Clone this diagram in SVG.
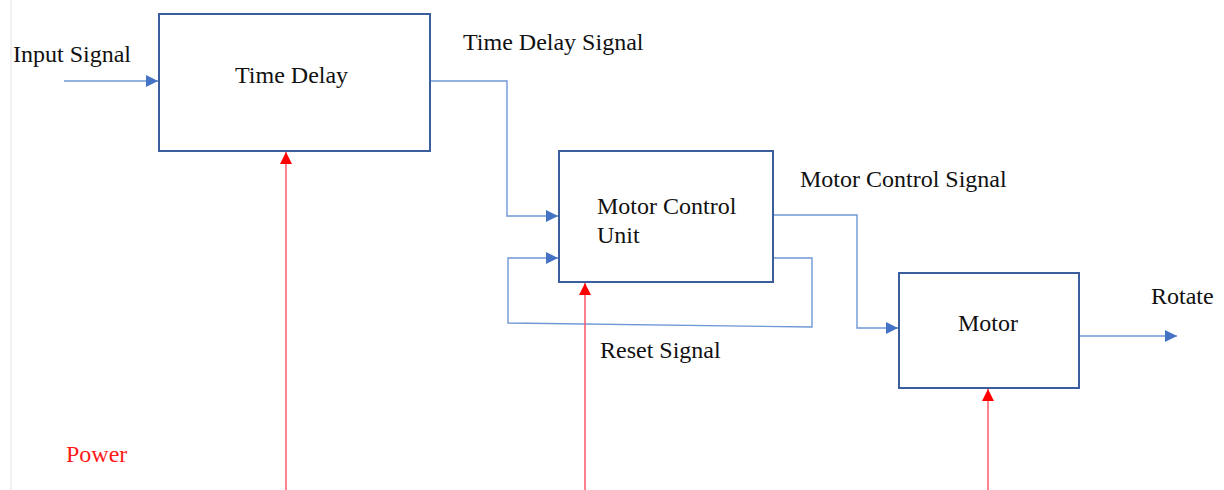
<svg xmlns="http://www.w3.org/2000/svg" width="1224" height="490" viewBox="0 0 1224 490">
<style>
.box{fill:#fff;stroke:#3b5f9e;stroke-width:2}
.lbl{font-family:"Liberation Serif","Times New Roman",serif;font-size:24px;fill:#111}
.blue{fill:none;stroke:#6f97d6;stroke-width:1.4}
.red{fill:none;stroke:#ff4d5e;stroke-width:1.4}
</style>
<defs>
<marker id="ab" markerUnits="userSpaceOnUse" markerWidth="13" markerHeight="12" refX="12" refY="6" orient="auto">
<path d="M0,0 L12,6 L0,12 Z" fill="#4472c4"/>
</marker>
<marker id="ar" markerUnits="userSpaceOnUse" markerWidth="13" markerHeight="12" refX="12" refY="6" orient="auto">
<path d="M0,0 L12,6 L0,12 Z" fill="#ff0000"/>
</marker>
</defs>
<rect width="1224" height="490" fill="#fff"/>
<line x1="11" y1="0" x2="11" y2="490" stroke="#e2e2e2" stroke-width="1"/>
<g id="connectors">
<path class="blue" d="M64,81 H158" marker-end="url(#ab)"/>
<path class="blue" d="M430,81 H507 V216 H558" marker-end="url(#ab)"/>
<path class="blue" d="M773,258 H812 V327 L508,323 V258 H558" marker-end="url(#ab)"/>
<path class="blue" d="M773,215 H857 V328 H898" marker-end="url(#ab)"/>
<path class="blue" d="M1079,336 H1177" marker-end="url(#ab)"/>
<path class="red" d="M286,490 V152" marker-end="url(#ar)"/>
<path class="red" d="M585,490 V283" marker-end="url(#ar)"/>
<path class="red" d="M988,490 V389" marker-end="url(#ar)"/>
</g>
<g id="time-delay">
<rect class="box" x="159" y="14" width="271" height="137"/>
<text class="lbl" x="235" y="83">Time Delay</text>
</g>
<g id="motor-control-unit">
<rect class="box" x="559" y="151" width="214" height="131"/>
<text class="lbl" x="597" y="214">Motor Control</text>
<text class="lbl" x="597" y="243">Unit</text>
</g>
<g id="motor">
<rect class="box" x="899" y="273" width="180" height="115"/>
<text class="lbl" x="958" y="331">Motor</text>
</g>
<g id="labels">
<text class="lbl" x="13" y="62">Input Signal</text>
<text class="lbl" x="463" y="50">Time Delay Signal</text>
<text class="lbl" x="800" y="187">Motor Control Signal</text>
<text class="lbl" x="600" y="358">Reset Signal</text>
<text class="lbl" x="1151" y="304">Rotate</text>
<text class="lbl" x="66" y="462" style="fill:#ff1a1a">Power</text>
</g>
</svg>
